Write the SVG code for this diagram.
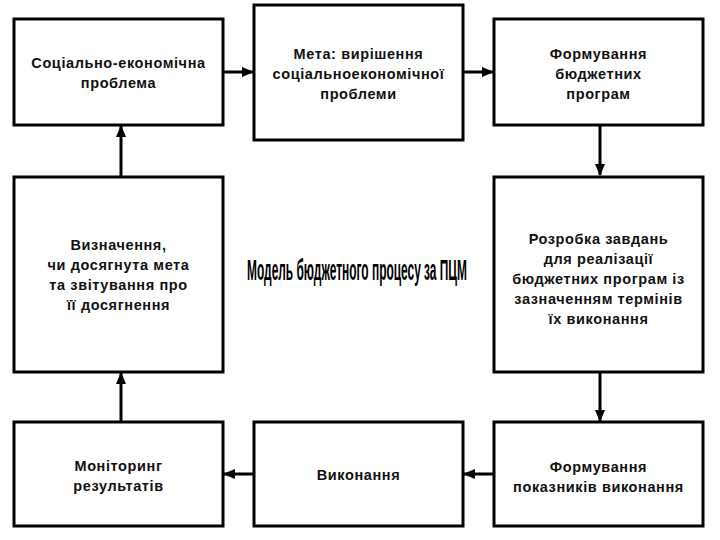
<svg xmlns="http://www.w3.org/2000/svg" width="720" height="540" viewBox="0 0 720 540">
<style>
.box{fill:#fff;stroke:#000;stroke-width:3}
.t{font-family:"Liberation Sans",Arial,sans-serif;font-weight:bold;font-size:14.5px;letter-spacing:0.6px;fill:#111;text-anchor:middle}
.c{stroke:#000;stroke-width:3;fill:none;marker-end:url(#ah)}
.title{font-family:"Liberation Sans",Arial,sans-serif;font-weight:bold;font-size:29px;fill:#000;text-anchor:middle}
</style>
<defs>
<marker id="ah" markerUnits="userSpaceOnUse" markerWidth="12" markerHeight="10" refX="11" refY="5" orient="auto">
<path d="M0,0 L12,5 L0,10 Z" fill="#000"/>
</marker>
</defs>
<rect width="720" height="540" fill="#fff"/>
<g id="connectors">
<line class="c" x1="223" y1="72" x2="253" y2="72"/>
<line class="c" x1="463" y1="72" x2="493" y2="72"/>
<line class="c" x1="600" y1="125" x2="600" y2="175"/>
<line class="c" x1="600" y1="372" x2="600" y2="421"/>
<line class="c" x1="494" y1="474" x2="464" y2="474"/>
<line class="c" x1="254" y1="474" x2="224" y2="474"/>
<line class="c" x1="121" y1="422" x2="121" y2="373"/>
<line class="c" x1="121" y1="177" x2="121" y2="126"/>
</g>
<g id="n1"><rect class="box" x="14" y="19" width="209" height="106"/>
<text class="t" x="118.5" y="68">Соціально-економічна</text>
<text class="t" x="118.5" y="88">проблема</text></g>
<g id="n2"><rect class="box" x="254" y="5" width="209" height="135"/>
<text class="t" x="358.5" y="59">Мета: вирішення</text>
<text class="t" x="358.5" y="79">соціальноекономічної</text>
<text class="t" x="358.5" y="99">проблеми</text></g>
<g id="n3"><rect class="box" x="494" y="19" width="209" height="106"/>
<text class="t" x="598.5" y="59">Формування</text>
<text class="t" x="598.5" y="79">бюджетних</text>
<text class="t" x="598.5" y="99">програм</text></g>
<g id="n4"><rect class="box" x="14" y="177" width="209" height="195"/>
<text class="t" x="118.5" y="250">Визначення,</text>
<text class="t" x="118.5" y="270">чи досягнута мета</text>
<text class="t" x="118.5" y="290">та звітування про</text>
<text class="t" x="118.5" y="310">її досягнення</text></g>
<g id="n5"><rect class="box" x="494" y="177" width="209" height="195"/>
<text class="t" x="598.5" y="244">Розробка завдань</text>
<text class="t" x="598.5" y="264">для реалізації</text>
<text class="t" x="598.5" y="284">бюджетних програм із</text>
<text class="t" x="598.5" y="304">зазначенням термінів</text>
<text class="t" x="598.5" y="324">їх виконання</text></g>
<g id="n6"><rect class="box" x="14" y="422" width="209" height="104"/>
<text class="t" x="118.5" y="471">Моніторинг</text>
<text class="t" x="118.5" y="491">результатів</text></g>
<g id="n7"><rect class="box" x="254" y="422" width="209" height="104"/>
<text class="t" x="358.5" y="480">Виконання</text></g>
<g id="n8"><rect class="box" x="494" y="422" width="209" height="104"/>
<text class="t" x="598.5" y="472">Формування</text>
<text class="t" x="598.5" y="492">показників виконання</text></g>
<text class="title" x="357" y="280" textLength="220" lengthAdjust="spacingAndGlyphs">Модель бюджетного процесу за ПЦМ</text>
</svg>
